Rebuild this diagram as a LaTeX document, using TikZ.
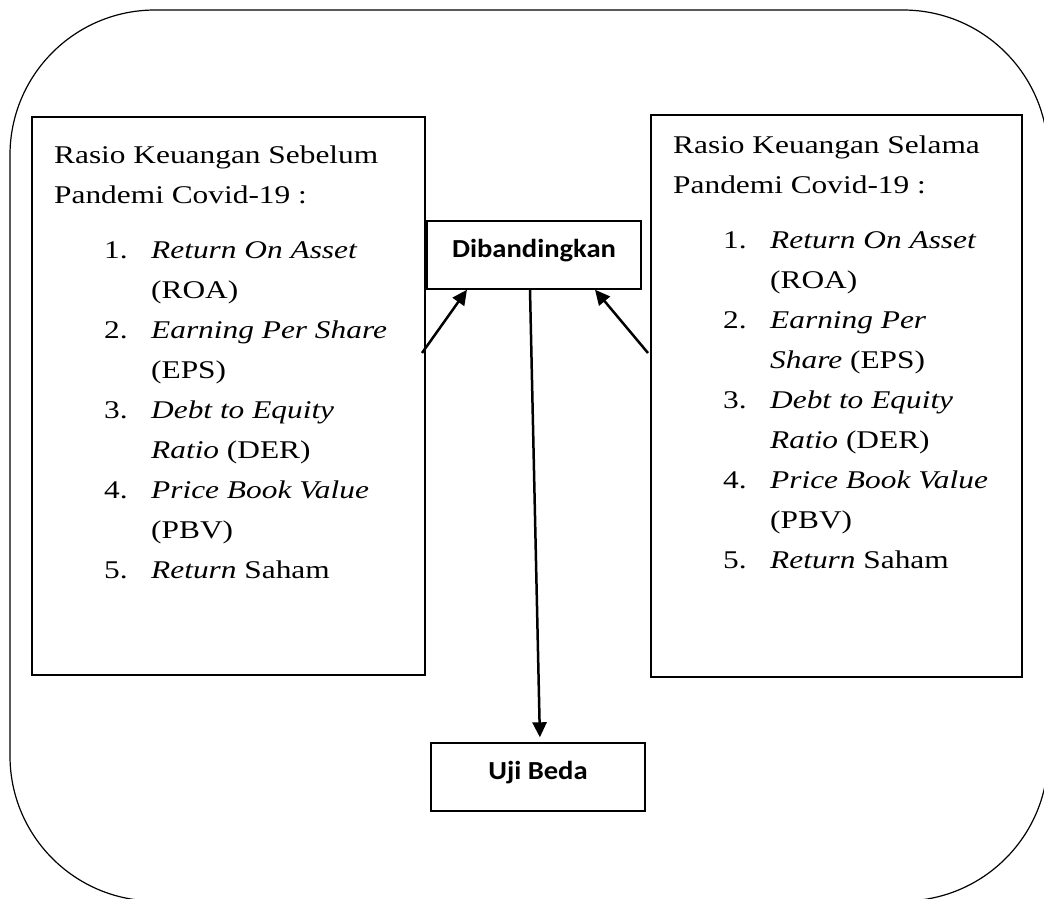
\documentclass[tikz,border=0pt]{standalone}
\usepackage{fontspec}
\setmainfont{Liberation Serif}[FakeStretch=1.23]
\newfontfamily\judulfont{Carlito}[FakeStretch=1.1]
\usetikzlibrary{arrows.meta}

\newcommand{\butir}[2]{\hspace*{50pt}\makebox[47pt][l]{#1}#2}
\newcommand{\lanjut}[1]{\hspace*{97pt}#1}

\begin{document}
\begin{tikzpicture}[x=1pt, y=-1pt,
        kotak/.style={draw, line width=1.4pt, inner sep=0pt},
        judul/.style={font=\judulfont\bfseries\fontsize{26}{30}\selectfont, text height=20pt, text depth=16pt},
        teks/.style={anchor=north west, inner sep=0pt, align=left, font=\fontsize{25.5}{40}\selectfont},
        panah/.style={line width=2.5pt, -{Triangle[length=15pt,width=14pt]}}]
    \useasboundingbox (0,0) rectangle (1044,898);

    % Bingkai luar
    \begin{scope}
        \clip (0,0) rectangle (1044,898);
        \draw[line width=1.2pt, rounded corners=145pt] (10,10) rectangle (1048,901);
    \end{scope}

    % Kotak rasio
    \node[kotak, minimum width=393pt, minimum height=558pt] (sebelum) at (228.5,396) {};
    \node[kotak, minimum width=371pt, minimum height=562pt] (selama) at (836.5,396) {};

    \node[teks] (teks sebelum) at (54,135) {\strut Rasio Keuangan Sebelum\\
        Pandemi Covid-19 :\\[15pt]
        \butir{1.}{\textit{Return On Asset}}\\
        \lanjut{(ROA)}\\
        \butir{2.}{\textit{Earning Per Share}}\\
        \lanjut{(EPS)}\\
        \butir{3.}{\textit{Debt to Equity}}\\
        \lanjut{\textit{Ratio} (DER)}\\
        \butir{4.}{\textit{Price Book Value}}\\
        \lanjut{(PBV)}\\
        \butir{5.}{\textit{Return} Saham}};

    \node[teks] (teks selama) at (673,125) {\strut Rasio Keuangan Selama\\
        Pandemi Covid-19 :\\[15pt]
        \butir{1.}{\textit{Return On Asset}}\\
        \lanjut{(ROA)}\\
        \butir{2.}{\textit{Earning Per}}\\
        \lanjut{\textit{Share} (EPS)}\\
        \butir{3.}{\textit{Debt to Equity}}\\
        \lanjut{\textit{Ratio} (DER)}\\
        \butir{4.}{\textit{Price Book Value}}\\
        \lanjut{(PBV)}\\
        \butir{5.}{\textit{Return} Saham}};

    % Tengah
    \node[kotak, judul, minimum width=214pt, minimum height=68pt] (banding) at (534,255) {Dibandingkan};
    \node[kotak, judul, minimum width=214pt, minimum height=68pt] (uji) at (538,777) {Uji Beda};

    % Panah
    \coordinate (kaki kiri) at (422,353);
    \coordinate (kaki kanan) at (648,353);
    \draw[panah] (kaki kiri) -- ([xshift=-67pt]banding.south);
    \draw[panah] (kaki kanan) -- ([xshift=61pt]banding.south);
    \draw[panah, shorten >=5pt] ([xshift=-4pt]banding.south) -- ([xshift=2pt]uji.north);
\end{tikzpicture}
\end{document}
